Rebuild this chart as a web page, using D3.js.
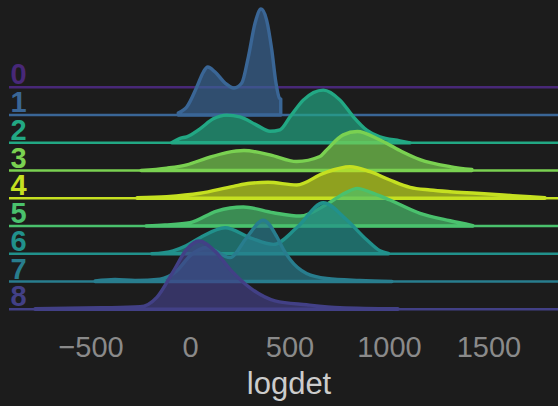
<!DOCTYPE html>
<html>
<head>
<meta charset="utf-8">
<script src="https://cdn.jsdelivr.net/npm/d3@7"></script>
<style>
  html, body { margin: 0; padding: 0; background: #1c1c1c; }
  svg { display: block; }
</style>
</head>
<body>
<script>
// ---- data ----
const categories = ["0", "1", "2", "3", "4", "5", "6", "7", "8"];
const colors = ["#482878", "#3a6696", "#22a884", "#7ad151", "#c5e021", "#4ac16d", "#21918c", "#287d8e", "#424086"];
const tickValues = [-500, 0, 500, 1000, 1500];
const xLabel = "logdet";

// density curves: [logdet, density]
const kde0 = [];
const kde1 = [[-59,0.02],[-34,0.05],[-17,0.08],[34,0.28],[67,0.43],[89,0.48],[126,0.43],[176,0.32],[221,0.27],[260,0.32],[293,0.58],[327,0.92],[357,1.06],[385,0.95],[411,0.65],[432,0.32],[449,0.17],[456,0.16]];
const kde2 = [[-92,0],[-50,0.045],[-17,0.06],[50,0.14],[117,0.24],[184,0.277],[251,0.26],[335,0.177],[402,0.115],[452,0.13],[503,0.26],[569,0.427],[670,0.527],[754,0.427],[821,0.26],[888,0.127],[955,0.06],[1055,0.02],[1106,0]];
const kde3 = [[-246,0],[-117,0.024],[-17,0.057],[84,0.124],[184,0.18],[271,0.2],[402,0.157],[536,0.09],[653,0.14],[687,0.207],[770,0.357],[841,0.39],[950,0.31],[1055,0.2],[1156,0.11],[1307,0.04],[1417,0.01]];
const kde4 = [[-266,0.005],[-117,0.016],[50,0.05],[218,0.12],[302,0.15],[392,0.16],[536,0.133],[670,0.25],[804,0.316],[905,0.266],[1005,0.183],[1106,0.11],[1206,0.083],[1307,0.066],[1441,0.05],[1574,0.033],[1709,0.016],[1784,0.005]];
const kde5 = [[-221,0],[-126,0.01],[0,0.033],[134,0.15],[268,0.19],[419,0.133],[553,0.1],[687,0.217],[779,0.33],[841,0.377],[905,0.34],[1005,0.26],[1156,0.127],[1307,0.053],[1422,0.005]];
const kde6 = [[-192,0],[-85,0.03],[-20,0.08],[50,0.16],[176,0.26],[302,0.16],[419,0.094],[536,0.26],[670,0.51],[787,0.34],[888,0.14],[955,0.03],[997,0.005]];
const kde7 = [[-477,0.005],[-377,0.02],[-276,0.01],[-151,0.024],[-67,0.107],[0,0.257],[84,0.34],[201,0.24],[285,0.44],[368,0.614],[436,0.45],[470,0.32],[503,0.22],[586,0.08],[687,0.03],[854,0.01],[1015,0]];
const kde8 = [[-779,0.005],[-452,0.015],[-251,0.025],[-167,0.12],[-84,0.38],[-17,0.6],[45,0.683],[126,0.58],[206,0.39],[312,0.2],[427,0.085],[586,0.045],[754,0.016],[1045,0.005]];
const densities = [kde0, kde1, kde2, kde3, kde4, kde5, kde6, kde7, kde8];

// ---- layout ----
const W = 558, H = 406;
const svg = d3.select("body").append("svg").attr("width", W).attr("height", H);
svg.append("rect").attr("width", W).attr("height", H).attr("fill", "#1c1c1c");

const x = d3.scaleLinear().domain([-910, 1905]).range([9, 569]);
const row = d3.scalePoint().domain(categories).range([87.3, 309.3]);
const h = d3.scaleLinear().domain([0, 1]).range([0, 100]);

const font = "'Liberation Sans', Arial, Helvetica, sans-serif";

categories.forEach((c, i) => {
  const base = row(c);
  const g = svg.append("g");
  g.append("line")
    .attr("x1", x.range()[0]).attr("x2", x.range()[1])
    .attr("y1", base).attr("y2", base)
    .attr("stroke", colors[i]).attr("stroke-width", 2.6);
  const data = densities[i];
  if (data.length) {
    const area = d3.area()
      .x(d => x(d[0]))
      .y0(base)
      .y1(d => base - h(d[1]))
      .curve(d3.curveMonotoneX);
    g.append("path")
      .attr("d", area(data))
      .attr("fill", colors[i]).attr("fill-opacity", 0.68)
      .attr("stroke", colors[i]).attr("stroke-width", 3.4)
      .attr("stroke-linejoin", "round");
  }
  svg.append("text")
    .attr("x", 10.5).attr("y", base - 3)
    .attr("font-family", font).attr("font-weight", "bold")
    .attr("font-size", 29)
    .attr("fill", colors[i])
    .text(c);
});

// x axis
const axis = svg.append("g")
  .attr("transform", "translate(0,356.7)")
  .call(d3.axisBottom(x).tickValues(tickValues).tickSize(0).tickFormat(d3.format("d")));
axis.select(".domain").remove();
axis.selectAll("text")
  .attr("y", 0).attr("dy", null)
  .attr("font-family", font).attr("font-size", 29)
  .attr("fill", "#8a8a8a");

svg.append("text")
  .attr("x", 289).attr("y", 394.3)
  .attr("text-anchor", "middle")
  .attr("font-family", font).attr("font-size", 31)
  .attr("fill", "#cccccc")
  .text(xLabel);
</script>
</body>
</html>
